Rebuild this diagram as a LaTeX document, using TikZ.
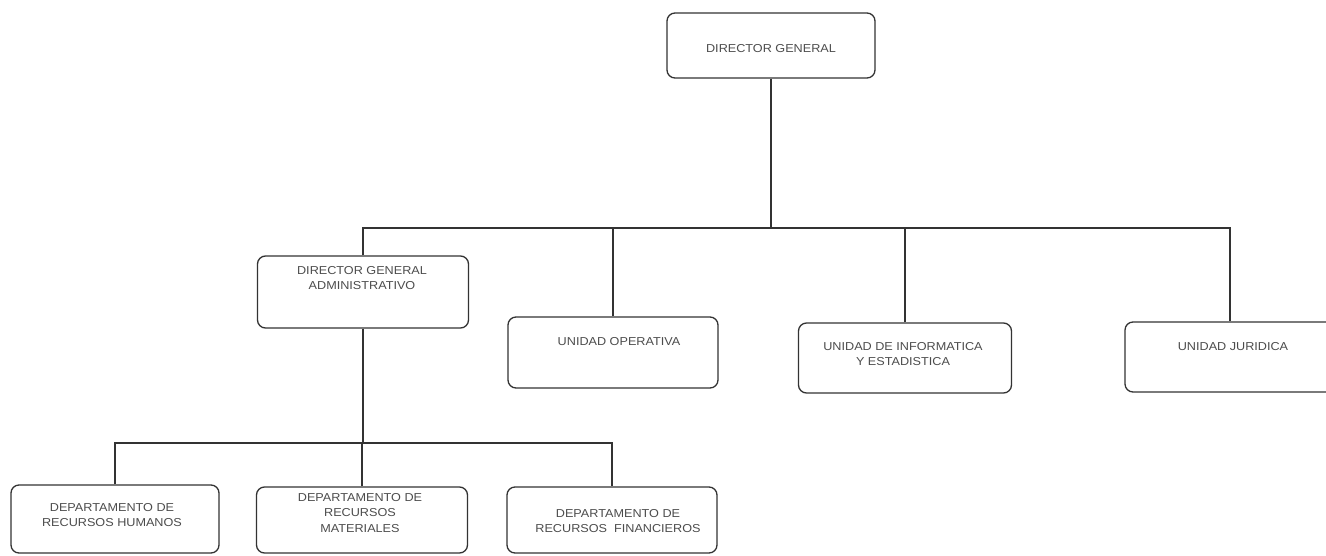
\documentclass[tikz,border=0pt]{standalone}
\usepackage{fontspec}
\setmainfont{Liberation Sans}[FakeStretch=1.1]
\begin{document}
\begin{tikzpicture}[x=1pt,y=-1pt,
  box/.style={draw=black!80, line width=1.3pt, rounded corners=8pt, fill=white, inner sep=0pt},
  txt/.style={font=\fontsize{11.5}{15.5}\selectfont, text=black!70, align=center, inner sep=0pt},
  conn/.style={draw=black!80, line width=1.3pt}]
\useasboundingbox[fill=white] (0,0) rectangle (1326,555);
% boxes
\node[box, minimum width=208pt, minimum height=65pt] (dg)  at (771,45.5) {};
\node[box, minimum width=211pt, minimum height=72pt] (dga) at (363,292) {};
\node[box, minimum width=210pt, minimum height=71pt] (uo)  at (613,352.5) {};
\node[box, minimum width=213pt, minimum height=70pt] (ui)  at (905,358) {};
\node[box, minimum width=210pt, minimum height=70pt] (uj)  at (1230,357) {};
\node[box, minimum width=208pt, minimum height=68pt] (rh)  at (115,519) {};
\node[box, minimum width=211pt, minimum height=66pt] (rm)  at (362,520) {};
\node[box, minimum width=210pt, minimum height=66pt] (rf)  at (612,520) {};
% texts
\node[txt] (dgt)  at (771,49) {DIRECTOR GENERAL};
\node[txt] (dgat) at (362,278) {DIRECTOR GENERAL\\ADMINISTRATIVO};
\node[txt] (uot)  at (619,342) {UNIDAD OPERATIVA};
\node[txt] (uit)  at (903,354) {UNIDAD DE INFORMATICA\\Y ESTADISTICA};
\node[txt] (ujt)  at (1233,347) {UNIDAD JURIDICA};
\node[txt] (rht)  at (112,515) {DEPARTAMENTO DE\\RECURSOS HUMANOS};
\node[txt] (rmt)  at (360,513) {DEPARTAMENTO DE\\RECURSOS\\MATERIALES};
\node[txt] (rft)  at (618,521) {DEPARTAMENTO DE\\RECURSOS\ \ FINANCIEROS};
% bus points
\coordinate (bus1) at (771,228);
\coordinate (bus2) at (363,443);
% connectors
\draw[conn] (dg.south) -- (bus1);
\draw[conn] (dga.north) |- (bus1) -| (uj.north);
\draw[conn] (uo.north) -- (uo.north |- bus1);
\draw[conn] (ui.north) -- (ui.north |- bus1);
\draw[conn] (dga.south) -- (bus2);
\draw[conn] (rh.north) |- (bus2) -| (rf.north);
\draw[conn] (rm.north) -- (rm.north |- bus2);
\end{tikzpicture}
\end{document}
